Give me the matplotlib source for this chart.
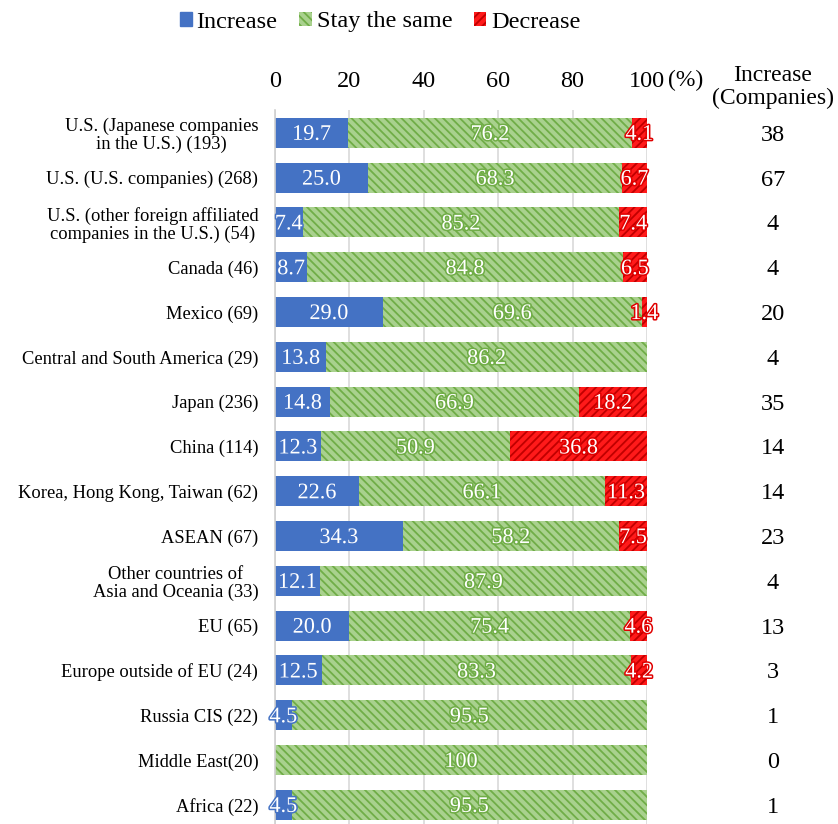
import matplotlib
matplotlib.use('Agg')
import matplotlib.pyplot as plt
import matplotlib.patheffects as pe
import matplotlib.transforms as mtransforms
from matplotlib.patches import Patch

plt.rcParams['font.family'] = 'Liberation Serif'
plt.rcParams['hatch.linewidth'] = 1.3

regions = [
    'U.S. (Japanese companies\nin the U.S.) (193)',
    'U.S. (U.S. companies) (268)',
    'U.S. (other foreign affiliated\ncompanies in the U.S.) (54)',
    'Canada (46)',
    'Mexico (69)',
    'Central and South America (29)',
    'Japan (236)',
    'China (114)',
    'Korea, Hong Kong, Taiwan (62)',
    'ASEAN (67)',
    'Other countries of\nAsia and Oceania (33)',
    'EU (65)',
    'Europe outside of EU (24)',
    'Russia CIS (22)',
    'Middle East(20)',
    'Africa (22)',
]
increase = [19.7, 25.0, 7.4, 8.7, 29.0, 13.8, 14.8, 12.3, 22.6, 34.3, 12.1, 20.0, 12.5, 4.5, 0, 4.5]
same = [76.2, 68.3, 85.2, 84.8, 69.6, 86.2, 66.9, 50.9, 66.1, 58.2, 87.9, 75.4, 83.3, 95.5, 100, 95.5]
decrease = [4.1, 6.7, 7.4, 6.5, 1.4, 0, 18.2, 36.8, 11.3, 7.5, 0, 4.6, 4.2, 0, 0, 0]
companies = [38, 67, 4, 4, 20, 4, 35, 14, 14, 23, 4, 13, 3, 1, 0, 1]
x_ticks = [0, 20, 40, 60, 80, 100]

BLUE = '#4472c4'
GREEN_BG, GREEN_HATCH = '#a9d18e', '#70ad47'
RED_BG, RED_HATCH = '#ff1a1a', '#c00000'
GREEN_PAT = '\\' * 4
RED_PAT = '/' * 4

fig = plt.figure(figsize=(8.38, 8.24), dpi=100)
ax = fig.add_axes([275 / 838, -0.004, 372 / 838, 0.870])

y = list(range(len(regions)))
h = 0.67

ax.barh(y, increase, height=h, color=BLUE, edgecolor=BLUE, linewidth=0)
left2 = increase
ax.barh(y, same, left=left2, height=h, facecolor=GREEN_BG, edgecolor=GREEN_HATCH,
        hatch=GREEN_PAT, linewidth=0)
left3 = [a + b for a, b in zip(increase, same)]
ax.barh(y, decrease, left=left3, height=h, facecolor=RED_BG, edgecolor=RED_HATCH,
        hatch=RED_PAT, linewidth=0)


def put_labels(vals, lefts, stroke):
    for i, (v, l) in enumerate(zip(vals, lefts)):
        if v == 0:
            continue
        txt = '100' if v == 100 else f'{v:.1f}'
        ax.text(l + v / 2, i, txt, ha='center', va='center_baseline', color='white', fontsize=16,
                path_effects=[pe.withStroke(linewidth=2.2, foreground=stroke)], zorder=5)


put_labels(increase, [0] * len(increase), BLUE)
put_labels(same, left2, GREEN_HATCH)
put_labels(decrease, left3, '#e00000')

ax.set_xlim(0, 100)
ax.set_ylim(len(regions) - 0.5, -0.5)
ax.xaxis.tick_top()
ax.set_xticks(x_ticks)
ax.set_xticklabels([str(t) for t in x_ticks], fontsize=17.5)
ax.tick_params(axis='x', length=0, pad=13)
ax.tick_params(axis='y', length=0, pad=12)
ax.set_yticks(y)
ax.set_yticklabels(regions, fontsize=13.3, multialignment='center', linespacing=1.05)
ax.grid(axis='x', color='#d9d9d9', linewidth=1.2)
ax.set_axisbelow(True)
for s in ['top', 'right', 'bottom']:
    ax.spines[s].set_visible(False)
ax.spines['left'].set_color('#d0d0d0')
ax.spines['left'].set_linewidth(1.2)

# unit and right-hand company counts
fig.text(668 / 838, 1 - 80 / 824, '(%)', fontsize=17, ha='left', va='center')
fig.text(773 / 838, 1 - 87 / 824, 'Increase\n(Companies)', fontsize=17, ha='center',
         va='center', linespacing=1.15)
col = mtransforms.blended_transform_factory(fig.transFigure, ax.transData)
for i, c in enumerate(companies):
    ax.text(773 / 838, i, str(c), transform=col, fontsize=17.5, ha='center',
            va='center_baseline')

handles = [
    Patch(facecolor=BLUE, edgecolor=BLUE, label='Increase'),
    Patch(facecolor=GREEN_BG, edgecolor=GREEN_HATCH, hatch=GREEN_PAT, linewidth=0, label='Stay the same'),
    Patch(facecolor=RED_BG, edgecolor=RED_HATCH, hatch=RED_PAT, linewidth=0, label='Decrease'),
]
fig.legend(handles=handles, loc='center', bbox_to_anchor=(380 / 838, 1 - 22 / 824), ncol=3,
           frameon=False, fontsize=17.5, handlelength=0.5, handleheight=0.5,
           handletextpad=0.2, columnspacing=0.9)

fig.savefig('out.png', dpi=100)
